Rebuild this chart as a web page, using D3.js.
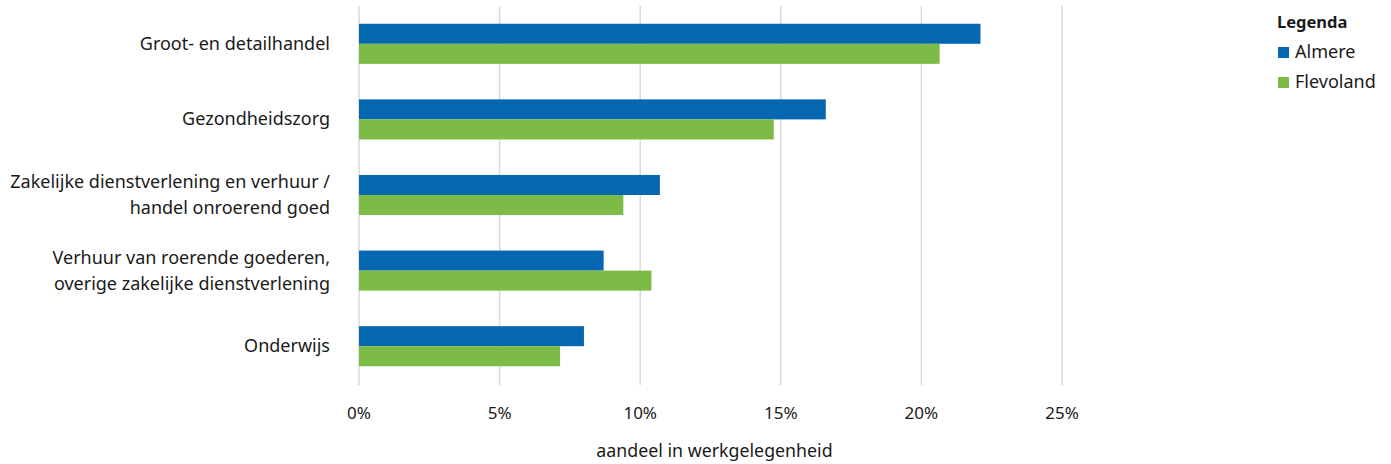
<!DOCTYPE html>
<html>
<head>
<meta charset="utf-8">
<script src="https://cdn.jsdelivr.net/npm/d3@7"></script>
<style>
  body { margin: 0; background: #fff; }
  text { font-family: "Noto Sans", sans-serif; fill: #1a1a1a; }
</style>
</head>
<body>
<div id="chart"></div>
<script>
// categories, top to bottom (label lines)
const categories = [
  ['Groot- en detailhandel'],
  ['Gezondheidszorg'],
  ['Zakelijke dienstverlening en verhuur /', 'handel onroerend goed'],
  ['Verhuur van roerende goederen,', 'overige zakelijke dienstverlening'],
  ['Onderwijs']
];
const seriesNames = ['Almere', 'Flevoland'];
const almere = [22.1, 16.6, 10.7, 8.7, 8.0];
const flevoland = [20.65, 14.75, 9.4, 10.4, 7.15];
const xTicks = [0, 5, 10, 15, 20, 25];
const colors = ['#0767b1', '#7cbb46'];

const width = 1391, height = 464;
const svg = d3.select('#chart').append('svg')
  .attr('width', width)
  .attr('height', height);

const x = d3.scaleLinear().domain([0, 25]).range([359, 1062]);
const y = d3.scaleBand().domain(d3.range(categories.length)).range([6, 384]).paddingInner(0.47).paddingOuter(0.235);
const ySub = d3.scaleBand().domain([0, 1]).range([0, y.bandwidth()]);

// gridlines
svg.append('g').selectAll('line')
  .data(xTicks)
  .join('line')
  .attr('x1', d => x(d)).attr('x2', d => x(d))
  .attr('y1', 6).attr('y2', 385)
  .attr('stroke', '#d9d9d9')
  .attr('stroke-width', 1.5);

// tick labels
svg.append('g').selectAll('text')
  .data(xTicks)
  .join('text')
  .attr('x', d => x(d))
  .attr('y', 419)
  .attr('text-anchor', 'middle')
  .style('font-size', '17px')
  .text(d => d + '%');

svg.append('text')
  .attr('x', x(12.5) + 4)
  .attr('y', 457)
  .attr('text-anchor', 'middle')
  .style('font-size', '17.8px')
  .text('aandeel in werkgelegenheid');

// bars
const series = [almere, flevoland];
const groups = svg.append('g').selectAll('g')
  .data(categories.map((c, i) => i))
  .join('g')
  .attr('transform', i => 'translate(0,' + y(i) + ')');

groups.selectAll('rect')
  .data(i => series.map((s, k) => ({ k: k, v: s[i] })))
  .join('rect')
  .attr('x', x(0))
  .attr('y', d => ySub(d.k))
  .attr('width', d => x(d.v) - x(0))
  .attr('height', ySub.bandwidth())
  .attr('fill', d => colors[d.k]);

// category labels
const lineH = 26;
svg.append('g').selectAll('text')
  .data(categories)
  .join('text')
  .attr('text-anchor', 'end')
  .style('font-size', '18px')
  .each(function (d, i) {
    const cy = y(i) + y.bandwidth() / 2;
    const t = d3.select(this);
    d.forEach((line, j) => {
      t.append('tspan')
        .attr('x', 330)
        .attr('y', cy + (j - (d.length - 1) / 2) * lineH + 6)
        .text(line);
    });
  });

// legend
svg.append('text')
  .attr('x', 1277)
  .attr('y', 28)
  .style('font-size', '16.5px')
  .style('font-weight', 'bold')
  .text('Legenda');

const legend = svg.append('g').selectAll('g')
  .data(seriesNames)
  .join('g')
  .attr('transform', (d, i) => 'translate(1278,' + (52 + i * 30) + ')');
legend.append('rect')
  .attr('x', 0).attr('y', -5)
  .attr('width', 11).attr('height', 11)
  .attr('fill', (d, i) => colors[i]);
legend.append('text')
  .attr('x', 17)
  .attr('y', 6)
  .style('font-size', '18px')
  .text(d => d);
</script>
</body>
</html>
